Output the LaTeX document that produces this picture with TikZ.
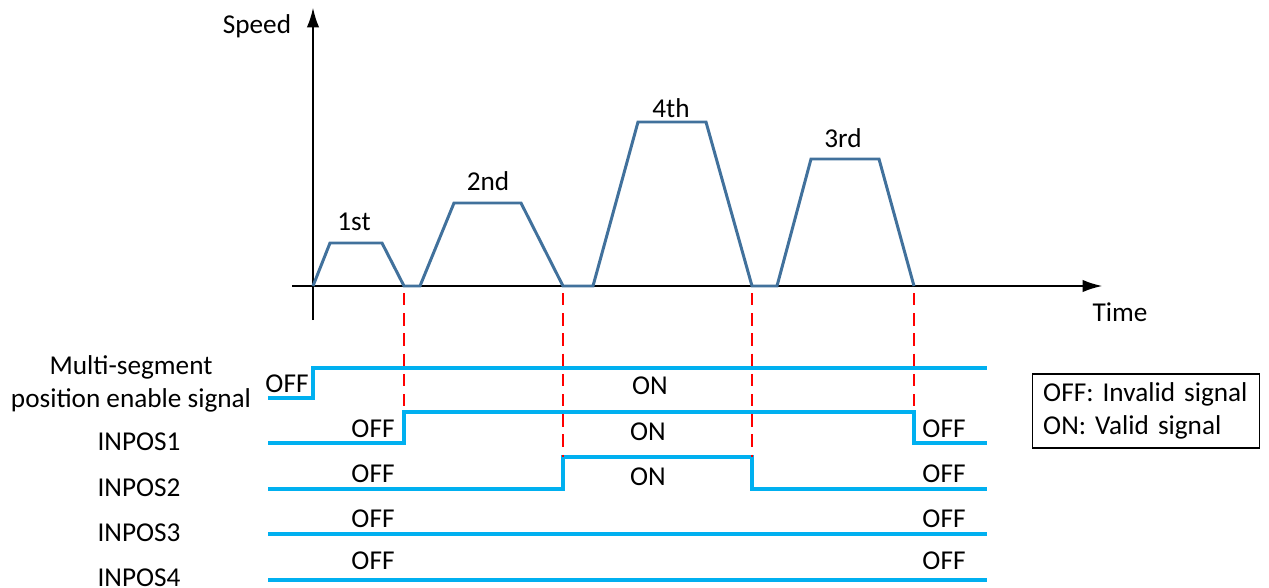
\documentclass[tikz,border=0pt]{standalone}
\usepackage{fontspec}
\setmainfont{Carlito}
\usetikzlibrary{arrows.meta}
\definecolor{profileblue}{RGB}{65,113,156}
\definecolor{signalcyan}{RGB}{0,176,240}
\begin{document}
\begin{tikzpicture}[x=0.02cm, y=-0.02cm, font=\fontsize{15.5}{19}\selectfont,
	axis/.style={line width=0.8pt, -{Latex[length=11pt, width=7pt]}},
	profile/.style={draw=profileblue, line width=1.7pt},
	signal/.style={draw=signalcyan, line width=1.8pt},
	cutline/.style={red, line width=0.9pt, dash pattern=on 7pt off 4.5pt}]
	\useasboundingbox (0,0) rectangle (1269,588);
	
	% axes
	\coordinate (O) at (313,286);
	\coordinate (ybot) at (313,320);
	\coordinate (ytop) at (313,8);
	\coordinate (xleft) at (292,286);
	\coordinate (xright) at (1102,286);
	\draw[axis] (ybot) -- (ytop);
	\draw[axis] (xleft) -- (xright);
	\node (speed) at (257,26) {Speed};
	\node (time) at (1120,312) {Time};
	
	% speed profile
	\coordinate (p1) at (330,243);
	\coordinate (p2) at (382,243);
	\coordinate (p3) at (404,286);
	\coordinate (p4) at (420,286);
	\coordinate (p5) at (454,203);
	\coordinate (p6) at (521,203);
	\coordinate (p7) at (563,286);
	\coordinate (p8) at (593,286);
	\coordinate (p9) at (638,122);
	\coordinate (p10) at (706,122);
	\coordinate (p11) at (752,286);
	\coordinate (p12) at (777,286);
	\coordinate (p13) at (811,159);
	\coordinate (p14) at (879,159);
	\coordinate (p15) at (914,286);
	\draw[profile] (O) -- (p1) -- (p2) -- (p3) -- (p4) -- (p5) -- (p6) -- (p7)
		-- (p8) -- (p9) -- (p10) -- (p11) -- (p12) -- (p13) -- (p14) -- (p15);
	\node (first) at (354,222) {1st};
	\node (second) at (488,181) {2nd};
	\node (fourth) at (671,108) {4th};
	\node (third) at (843,138) {3rd};
	
	% signal levels
	\coordinate (m0) at (268,398);
	\coordinate (m1) at (313,398);
	\coordinate (m2) at (313,368);
	\coordinate (m3) at (987,368);
	\coordinate (a0) at (268,443);
	\coordinate (a1) at (404,443);
	\coordinate (a2) at (404,412);
	\coordinate (a3) at (914,412);
	\coordinate (a4) at (914,443);
	\coordinate (a5) at (987,443);
	\coordinate (b0) at (268,489);
	\coordinate (b1) at (563,489);
	\coordinate (b2) at (563,457);
	\coordinate (b3) at (752,457);
	\coordinate (b4) at (752,489);
	\coordinate (b5) at (987,489);
	\coordinate (c0) at (268,534);
	\coordinate (c1) at (987,534);
	\coordinate (d0) at (268,580);
	\coordinate (d1) at (987,580);
	\draw[signal] (m0) -- (m1) -- (m2) -- (m3);
	\draw[signal] (a0) -- (a1) -- (a2) -- (a3) -- (a4) -- (a5);
	\draw[signal] (b0) -- (b1) -- (b2) -- (b3) -- (b4) -- (b5);
	\draw[signal] (c0) -- (c1);
	\draw[signal] (d0) -- (d1);
	
	% switching instants
	\draw[cutline] ([yshift=-4pt]p3) -- (a2);
	\draw[cutline] ([yshift=-4pt]p7) -- (b2);
	\draw[cutline] ([yshift=-4pt]p11) -- (b3);
	\draw[cutline] ([yshift=-4pt]p15) -- (a3);
	
	% signal names
	\node (multi) at (131,367) {Multi-segment};
	\node (enable) at (131,400) {position enable signal};
	\node (inpos1) at (139,442) {INPOS1};
	\node (inpos2) at (139,488) {INPOS2};
	\node (inpos3) at (139,533) {INPOS3};
	\node (inpos4) at (139,578) {INPOS4};
	
	% states
	\node (moff) at (287,384) {OFF};
	\node (mon) at (650,386) {ON};
	\node (aoff) at (373,429) {OFF};
	\node (aon) at (648,432) {ON};
	\node (aoffr) at (944,429) {OFF};
	\node (boff) at (373,474) {OFF};
	\node (bon) at (648,477) {ON};
	\node (boffr) at (944,474) {OFF};
	\node (coff) at (373,519) {OFF};
	\node (coffr) at (944,519) {OFF};
	\node (doff) at (373,561) {OFF};
	\node (doffr) at (944,561) {OFF};
	
	% legend
	\node[draw, line width=0.8pt, align=left, inner xsep=6pt, text width=117pt,
		minimum height=42pt] (legend) at (1146,411) {OFF: Invalid signal\\ON: Valid signal};
	
\end{tikzpicture}
\end{document}
